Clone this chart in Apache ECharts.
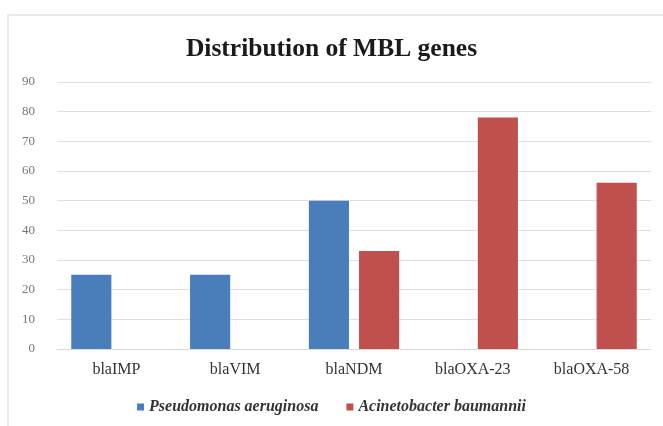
<!DOCTYPE html>
<html lang="en">
<head>
    <meta charset="UTF-8">
    <title>Distribution of MBL genes</title>
    <script src="https://cdn.jsdelivr.net/npm/echarts@6/dist/echarts.min.js"></script>
</head>
<body style="margin:0;background:#fff;">
<div id='myChart' style='width:663px;height:426px;'></div>
<script type="text/javascript">
    // data
    var genes = ['blaIMP', 'blaVIM', 'blaNDM', 'blaOXA-23', 'blaOXA-58'];
    var pseudomonas = [25, 25, 50, 0, 0];
    var acinetobacter = [0, 0, 33, 78, 56];
    var yTicks = [0, 90, 10]; // min, max, step

    var myChart = echarts.init(document.getElementById('myChart'));
    var serif = '"Liberation Serif", "DejaVu Serif", serif';

    // zero values are not drawn as bars
    function toData(arr) {
        var out = [];
        for (var i = 0; i < arr.length; i++) {
            out.push(arr[i] === 0 ? '-' : arr[i]);
        }
        return out;
    }

    var option = {
        animation: false,
        backgroundColor: '#fff',
        graphic: [{
            type: 'rect',
            shape: {x: 8, y: 15, width: 660, height: 420},
            style: {fill: 'none', stroke: '#e3e3e3', lineWidth: 1.5},
            silent: true
        }],
        title: {
            text: 'Distribution of MBL genes',
            left: 'center',
            top: 31,
            textStyle: {fontFamily: serif, fontSize: 25.5, fontWeight: 'bold', color: '#1a1a1a'}
        },
        legend: {
            bottom: 6,
            left: 'center',
            itemWidth: 7,
            itemHeight: 7,
            itemGap: 28,
            icon: 'rect',
            textStyle: {fontFamily: serif, fontSize: 16, fontWeight: 'bold', fontStyle: 'italic', color: '#333'},
            data: ['Pseudomonas aeruginosa', 'Acinetobacter baumannii']
        },
        grid: {left: 57, right: 12, top: 82, bottom: 77},
        xAxis: {
            type: 'category',
            data: genes,
            axisTick: {show: false},
            axisLine: {lineStyle: {color: '#d9d9d9'}},
            axisLabel: {fontFamily: serif, fontSize: 16, color: '#333', margin: 13}
        },
        yAxis: {
            type: 'value',
            min: yTicks[0],
            max: yTicks[1],
            interval: yTicks[2],
            axisLine: {show: false},
            axisTick: {show: false},
            splitLine: {lineStyle: {color: '#e0e0e0'}},
            axisLabel: {fontFamily: serif, fontSize: 13, color: '#777', margin: 22}
        },
        series: [{
            name: 'Pseudomonas aeruginosa',
            type: 'bar',
            data: toData(pseudomonas),
            barGap: '25%',
            barCategoryGap: '24%',
            itemStyle: {color: '#4a7ebb'}
        }, {
            name: 'Acinetobacter baumannii',
            type: 'bar',
            data: toData(acinetobacter),
            itemStyle: {color: '#c0504d'}
        }]
    };
    myChart.setOption(option);
</script>
</body>
</html>
